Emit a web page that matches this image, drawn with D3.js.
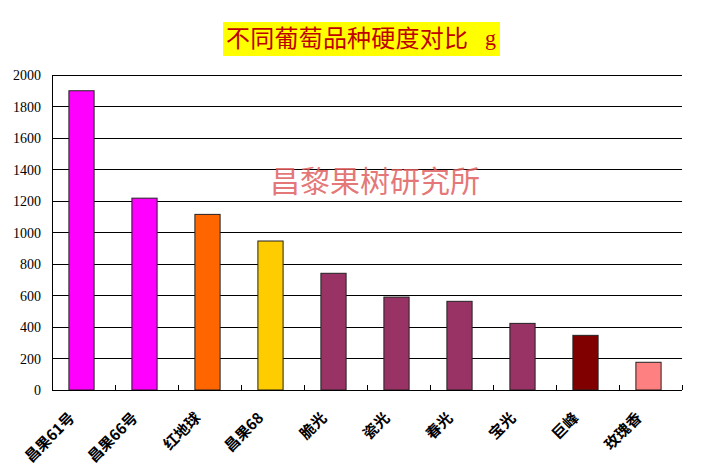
<!DOCTYPE html>
<html><head><meta charset="utf-8">
<script src="https://cdn.jsdelivr.net/npm/d3@7"></script>
<style>body{margin:0;background:#fff}svg{display:block}</style>
</head><body>
<svg id="c" width="707" height="476"></svg>
<script>
const categories = ["昌果61号","昌果66号","红地球","昌果68","脆光","瓷光","春光","宝光","巨峰","玫瑰香"];
const values = [1900, 1218, 1115, 946, 741, 590, 563, 423, 347, 176];
const colors = ["#FF00FF","#FF00FF","#FF6600","#FFCC00","#993366","#993366","#993366","#993366","#800000","#FF8080"];
const yTicks = [0,200,400,600,800,1000,1200,1400,1600,1800,2000];
const titleMain = "不同葡萄品种硬度对比";
const titleUnit = "g";
const watermark = "昌黎果树研究所";

const svg = d3.select("#c");
const m = {l:52, r:682, t:75, b:390};
const x = d3.scaleBand().domain(categories).range([m.l, m.r]).paddingInner(0.6).paddingOuter(0.3);
const xb = d3.scaleBand().domain(categories).range([m.l, m.r]);
const y = d3.scaleLinear().domain([0,2000]).range([m.b, m.t]);

// gridlines
svg.append("g").selectAll("line").data(yTicks.filter(d=>d>0)).join("line")
  .attr("x1", m.l).attr("x2", m.r).attr("y1", d=>y(d)).attr("y2", d=>y(d))
  .attr("stroke","#000").attr("stroke-width",1).attr("shape-rendering","crispEdges");

// y axis labels
svg.append("g").selectAll("text").data(yTicks).join("text")
  .attr("x", 41).attr("y", d=>y(d)+5).attr("text-anchor","end")
  .attr("font-family","'Liberation Serif', serif").attr("font-size",14).attr("fill","#000")
  .text(d=>d);

// bars
svg.append("g").selectAll("rect").data(values).join("rect")
  .attr("x",(d,i)=>x(categories[i]) - 2).attr("width", x.bandwidth())
  .attr("y", d=>y(d)).attr("height", d=>y(0)-y(d))
  .attr("fill",(d,i)=>colors[i]).attr("stroke","#222").attr("stroke-width",1);

// axes lines
svg.append("line").attr("x1",m.l).attr("x2",m.l).attr("y1",m.t).attr("y2",m.b)
  .attr("stroke","#000").attr("shape-rendering","crispEdges");
svg.append("line").attr("x1",m.l).attr("x2",m.r).attr("y1",m.b).attr("y2",m.b)
  .attr("stroke","#000").attr("shape-rendering","crispEdges");
// x ticks (inside)
svg.append("g").selectAll("line").data(categories.slice(1).concat(["__end"])).join("line")
  .attr("x1",d=> d==="__end" ? m.r : xb(d)).attr("x2",d=> d==="__end" ? m.r : xb(d))
  .attr("y1",m.b).attr("y2",m.b-5).attr("stroke","#000").attr("shape-rendering","crispEdges");

// x labels
svg.append("g").selectAll("text").data(categories).join("text")
  .attr("transform", d=>`translate(${xb(d)+xb.bandwidth()/2-8},${m.b+29}) rotate(-45)`)
  .attr("text-anchor","end")
  .attr("font-family","'Noto Sans CJK SC', sans-serif").attr("font-weight","bold")
  .attr("font-size",15).attr("fill","#000")
  .text(d=>d);

// title
svg.append("rect").attr("x",223).attr("y",22).attr("width",277).attr("height",34).attr("fill","#FFFF00");
svg.append("text").attr("x",226).attr("y",47).attr("text-anchor","start")
  .attr("font-family","'Noto Sans CJK SC', sans-serif").attr("font-size",24)
  .attr("fill","#C00000").attr("textLength",242).text(titleMain);
svg.append("text").attr("x",485).attr("y",45).attr("text-anchor","start")
  .attr("font-family","'Liberation Serif', serif").attr("font-size",22)
  .attr("fill","#C00000").text(titleUnit);

// watermark
svg.append("text").attr("x",375).attr("y",192).attr("text-anchor","middle")
  .attr("font-family","'Noto Sans CJK SC', sans-serif").attr("font-size",30)
  .attr("fill","#E06060").attr("fill-opacity",0.85).text(watermark);
</script>
</body></html>
